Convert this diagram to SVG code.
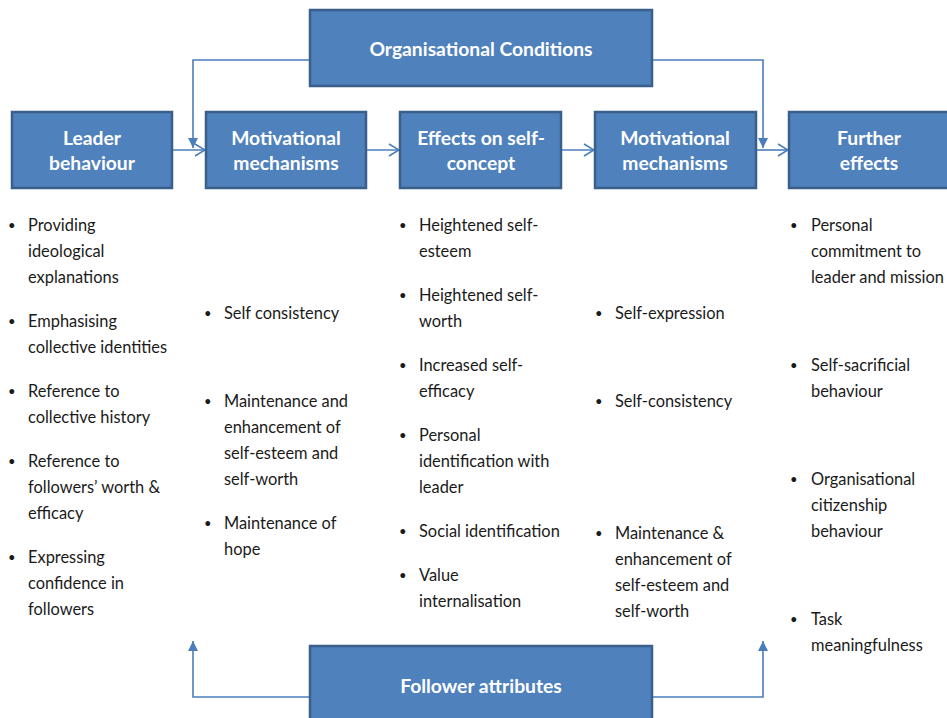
<svg xmlns="http://www.w3.org/2000/svg" width="947" height="718" viewBox="0 0 947 718">
<style>
.box{fill:#4F81BD;stroke:#3A5F8B;stroke-width:2.5}
.hd{font-family:Lato,"Liberation Sans",sans-serif;font-weight:bold;font-size:19.3px;fill:#FFFFFF;text-anchor:middle}
.tx{font-family:Lato,"Liberation Sans",sans-serif;font-size:16.4px;fill:#1A1A1A}
.bl{font-size:13px}
.cn{fill:none;stroke:#4A7EBB;stroke-width:1.6}
</style>
<defs>
<marker id="open" markerWidth="12" markerHeight="14" refX="11" refY="7" orient="auto" markerUnits="userSpaceOnUse">
<path d="M1,1 L11,7 L1,13" fill="none" stroke="#4A7EBB" stroke-width="1.6"/>
</marker>
<marker id="fill" markerWidth="12" markerHeight="12" refX="10" refY="6" orient="auto" markerUnits="userSpaceOnUse">
<path d="M0,1 L10,6 L0,11 Z" fill="#4A7EBB"/>
</marker>
</defs>
<rect width="947" height="718" fill="#FFFFFF"/>
<g id="connectors">
<line class="cn" x1="172" y1="150" x2="205" y2="150" marker-end="url(#open)"/>
<line class="cn" x1="366" y1="150" x2="399" y2="150" marker-end="url(#open)"/>
<line class="cn" x1="561" y1="150" x2="594" y2="150" marker-end="url(#open)"/>
<line class="cn" x1="756" y1="150" x2="788" y2="150" marker-end="url(#open)"/>
<path class="cn" d="M310,60 H193 V148" marker-end="url(#fill)"/>
<path class="cn" d="M652,60 H763 V148" marker-end="url(#fill)"/>
<path class="cn" d="M310,697 H193 V641" marker-end="url(#fill)"/>
<path class="cn" d="M652,697 H763 V641" marker-end="url(#fill)"/>
</g>
<g id="org-conditions">
<rect class="box" x="310" y="10" width="342" height="76"/>
<text class="hd" x="481" y="56">Organisational Conditions</text>
</g>
<g id="follower-attributes">
<rect class="box" x="310" y="646" width="342" height="80"/>
<text class="hd" x="481" y="693">Follower attributes</text>
</g>
<g id="leader-behaviour">
<rect class="box" x="12" y="112" width="160" height="76"/>
<text class="hd" x="92" y="145">Leader</text>
<text class="hd" x="92" y="170">behaviour</text>
</g>
<g id="motivational-1">
<rect class="box" x="206" y="112" width="160" height="76"/>
<text class="hd" x="286" y="145">Motivational</text>
<text class="hd" x="286" y="170">mechanisms</text>
</g>
<g id="effects-self-concept">
<rect class="box" x="400" y="112" width="161" height="76"/>
<text class="hd" x="481" y="145">Effects on self-</text>
<text class="hd" x="481" y="170">concept</text>
</g>
<g id="motivational-2">
<rect class="box" x="595" y="112" width="161" height="76"/>
<text class="hd" x="675" y="145">Motivational</text>
<text class="hd" x="675" y="170">mechanisms</text>
</g>
<g id="further-effects">
<rect class="box" x="789" y="112" width="161" height="76"/>
<text class="hd" x="869" y="145">Further</text>
<text class="hd" x="869" y="170">effects</text>
</g>
<g id="list-leader" class="tx">
<text class="bl" x="8" y="230">•</text><text x="28" y="231">Providing</text>
<text x="28" y="257">ideological</text>
<text x="28" y="283">explanations</text>
<text class="bl" x="8" y="326">•</text><text x="28" y="327">Emphasising</text>
<text x="28" y="353">collective identities</text>
<text class="bl" x="8" y="396">•</text><text x="28" y="397">Reference to</text>
<text x="28" y="423">collective history</text>
<text class="bl" x="8" y="466">•</text><text x="28" y="467">Reference to</text>
<text x="28" y="493">followers’ worth &amp;</text>
<text x="28" y="519">efficacy</text>
<text class="bl" x="8" y="562">•</text><text x="28" y="563">Expressing</text>
<text x="28" y="589">confidence in</text>
<text x="28" y="615">followers</text>
</g>
<g id="list-motivational-1" class="tx">
<text class="bl" x="204" y="318">•</text><text x="224" y="319">Self consistency</text>
<text class="bl" x="204" y="406">•</text><text x="224" y="407">Maintenance and</text>
<text x="224" y="433">enhancement of</text>
<text x="224" y="459">self-esteem and</text>
<text x="224" y="485">self-worth</text>
<text class="bl" x="204" y="528">•</text><text x="224" y="529">Maintenance of</text>
<text x="224" y="555">hope</text>
</g>
<g id="list-effects" class="tx">
<text class="bl" x="399" y="230">•</text><text x="419" y="231">Heightened self-</text>
<text x="419" y="257">esteem</text>
<text class="bl" x="399" y="300">•</text><text x="419" y="301">Heightened self-</text>
<text x="419" y="327">worth</text>
<text class="bl" x="399" y="370">•</text><text x="419" y="371">Increased self-</text>
<text x="419" y="397">efficacy</text>
<text class="bl" x="399" y="440">•</text><text x="419" y="441">Personal</text>
<text x="419" y="467">identification with</text>
<text x="419" y="493">leader</text>
<text class="bl" x="399" y="536">•</text><text x="419" y="537">Social identification</text>
<text class="bl" x="399" y="580">•</text><text x="419" y="581">Value</text>
<text x="419" y="607">internalisation</text>
</g>
<g id="list-motivational-2" class="tx">
<text class="bl" x="595" y="318">•</text><text x="615" y="319">Self-expression</text>
<text class="bl" x="595" y="406">•</text><text x="615" y="407">Self-consistency</text>
<text class="bl" x="595" y="538">•</text><text x="615" y="539">Maintenance &amp;</text>
<text x="615" y="565">enhancement of</text>
<text x="615" y="591">self-esteem and</text>
<text x="615" y="617">self-worth</text>
</g>
<g id="list-further" class="tx">
<text class="bl" x="790" y="230">•</text><text x="811" y="231">Personal</text>
<text x="811" y="257">commitment to</text>
<text x="811" y="283">leader and mission</text>
<text class="bl" x="790" y="370">•</text><text x="811" y="371">Self-sacrificial</text>
<text x="811" y="397">behaviour</text>
<text class="bl" x="790" y="484">•</text><text x="811" y="485">Organisational</text>
<text x="811" y="511">citizenship</text>
<text x="811" y="537">behaviour</text>
<text class="bl" x="790" y="624">•</text><text x="811" y="625">Task</text>
<text x="811" y="651">meaningfulness</text>
</g>
</svg>
